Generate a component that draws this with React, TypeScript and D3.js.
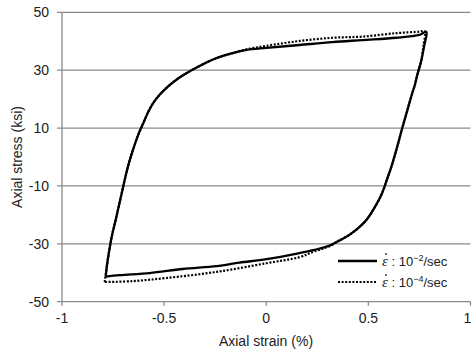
import React from "react";
import * as d3 from "d3";

const W = 472;
const H = 353;

const xTicks = [-1, -0.5, 0, 0.5, 1];
const yTicks = [-50, -30, -10, 10, 30, 50];

// Fast rate loop (10^-2/sec): strain (%) and stress (ksi)
const fastStrain = [
  -0.786, -0.779, -0.768, -0.755, -0.738, -0.722, -0.706, -0.69, -0.672, -0.65,
  -0.625, -0.6, -0.575, -0.54, -0.49, -0.43, -0.37, -0.3, -0.243, -0.165,
  -0.096, 0.001, 0.163, 0.324, 0.471, 0.637, 0.75, 0.784, 0.774, 0.758,
  0.74, 0.728, 0.715, 0.691, 0.666, 0.637, 0.612, 0.59, 0.567, 0.54,
  0.49, 0.45, 0.407, 0.36, 0.31, 0.236, 0.163, 0.001, -0.131, -0.243,
  -0.409, -0.571, -0.717, -0.786,
];
const fastStress = [
  -41.3, -37, -32, -27, -22, -17, -12, -7, -2, 3,
  8, 12, 16, 20, 23.8, 27.2, 29.8, 32.4, 34.2, 35.9,
  37.0, 37.7, 38.7, 39.7, 40.4, 41.2, 42.2, 43.2, 38.7, 33,
  28.5, 25, 22.1, 16.2, 10, 2.5, -3.5, -8, -12.5, -16.3,
  -21.8, -24.6, -26.9, -28.8, -30.6, -32.1, -33.2, -35.3, -36.5, -37.7,
  -38.7, -40.1, -40.8, -41.3,
];

// Slow rate loop (10^-4/sec)
const slowStrain = [
  -0.791, -0.779, -0.768, -0.755, -0.738, -0.722, -0.706, -0.69, -0.672, -0.65,
  -0.625, -0.6, -0.575, -0.54, -0.49, -0.43, -0.37, -0.3, -0.243, -0.165,
  -0.096, 0.001, 0.163, 0.324, 0.471, 0.637, 0.75, 0.776, 0.77, 0.758,
  0.74, 0.728, 0.715, 0.691, 0.666, 0.637, 0.612, 0.59, 0.567, 0.54,
  0.49, 0.45, 0.407, 0.36, 0.31, 0.236, 0.163, 0.001, -0.243, -0.489,
  -0.655, -0.791,
];
const slowStress = [
  -43.2, -37, -32, -27, -22, -17, -12, -7, -2, 3,
  8, 12, 16, 20, 23.8, 27.2, 29.8, 32.4, 34.2, 35.9,
  37.2, 38.4, 40.1, 41.2, 41.6, 42.8, 43.3, 43.5, 38.7, 33,
  28.5, 25, 22.1, 16.2, 10, 2.5, -3.5, -8, -12.5, -16.3,
  -21.8, -24.6, -26.9, -28.8, -30.8, -32.6, -34.6, -36.7, -39.7, -41.8,
  -42.9, -43.2,
];

const legendLabels = ["−2", "−4"];

export default function App() {
  const x = d3.scaleLinear().domain([-1, 1]).range([62, 470.5]);
  const y = d3.scaleLinear().domain([-50, 50]).range([301.7, 12.3]);

  const line = d3
    .line<[number, number]>()
    .x((d) => x(d[0]))
    .y((d) => y(d[1]))
    .curve(d3.curveCatmullRom.alpha(0.5));

  const fast: [number, number][] = fastStrain.map((s, i) => [s, fastStress[i]]);
  const slow: [number, number][] = slowStrain.map((s, i) => [s, slowStress[i]]);

  const gridColor = "#8a8a8a";
  const font = "'Liberation Sans', Arial, sans-serif";

  return (
    <svg
      width={W}
      height={H}
      style={{ position: "absolute", left: 0, top: 0, background: "#fff" }}
      fontFamily={font}
    >
      <rect x={0} y={0} width={W} height={H} fill="#fff" />
      {yTicks.map((t) => (
        <line
          key={"g" + t}
          x1={57}
          x2={470.5}
          y1={y(t)}
          y2={y(t)}
          stroke={gridColor}
          strokeWidth={1.3}
        />
      ))}
      <line x1={x(-1)} x2={x(-1)} y1={y(50)} y2={y(-50)} stroke={gridColor} strokeWidth={1.3} />
      {xTicks.map((t) => (
        <line
          key={"xt" + t}
          x1={x(t)}
          x2={x(t)}
          y1={y(-50)}
          y2={y(-50) + 4}
          stroke={gridColor}
          strokeWidth={1.3}
        />
      ))}
      {yTicks.map((t) => (
        <text
          key={"yl" + t}
          x={49}
          y={y(t)}
          dy="0.35em"
          textAnchor="end"
          fontSize={14}
          fill="#222"
        >
          {t}
        </text>
      ))}
      {xTicks.map((t) => (
        <text
          key={"xl" + t}
          x={t === 1 ? x(t) - 3 : x(t)}
          y={318}
          dy="0.35em"
          textAnchor="middle"
          fontSize={14}
          fill="#222"
        >
          {t}
        </text>
      ))}
      <text x={266} y={346} textAnchor="middle" fontSize={14} fill="#222">
        Axial strain (%)
      </text>
      <text
        transform={`translate(22,157) rotate(-90)`}
        textAnchor="middle"
        fontSize={14}
        fill="#222"
      >
        Axial stress (ksi)
      </text>

      <path
        d={line(slow) || ""}
        fill="none"
        stroke="#000"
        strokeWidth={2.2}
        strokeDasharray="2 1.6"
      />
      <path d={line(fast) || ""} fill="none" stroke="#000" strokeWidth={2.3} strokeLinejoin="round" />

      {legendLabels.map((lab, i) => {
        const ly = 261 + i * 21;
        return (
          <g key={"lg" + i}>
            <line
              x1={338}
              x2={377}
              y1={ly}
              y2={ly}
              stroke="#000"
              strokeWidth={i === 0 ? 2.5 : 2.2}
              strokeDasharray={i === 0 ? undefined : "2 1.6"}
            />
            <circle cx={386} cy={ly - 7} r={0.9} fill="#222" />
            <text x={382} y={ly + 5} fontSize={13} fill="#222">
              <tspan fontFamily="'Liberation Serif', serif" fontStyle="italic" fontSize={15}>
                ε
              </tspan>
              <tspan> : 10</tspan>
              <tspan dy={-5} fontSize={9}>
                {lab}
              </tspan>
              <tspan dy={5}>/sec</tspan>
            </text>
          </g>
        );
      })}
    </svg>
  );
}
